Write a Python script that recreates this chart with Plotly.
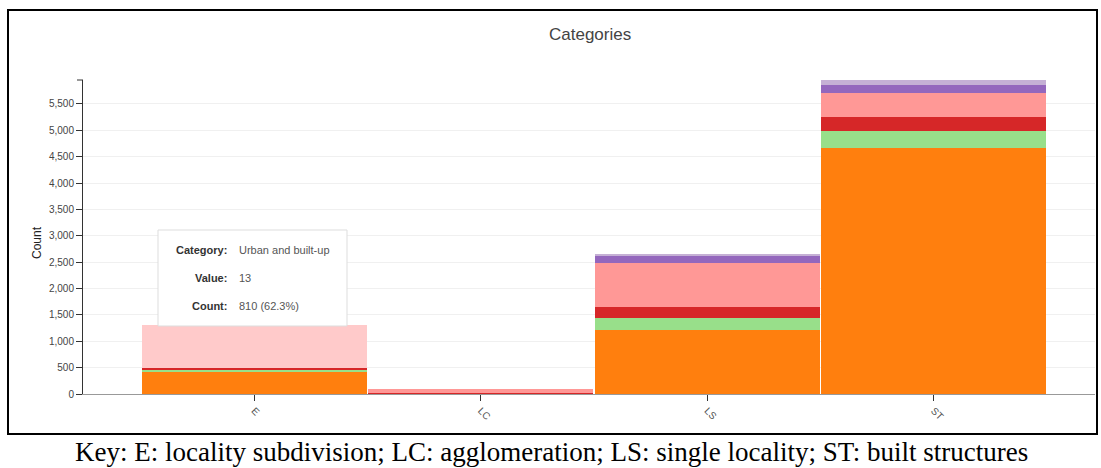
import plotly.graph_objects as go

# ---------------- data ----------------
categories = ["E", "LC", "LS", "ST"]
woody_savannas = [425, 0, 1210, 4670]
permanent_wetlands = [25, 0, 230, 320]
croplands = [40, 15, 210, 265]
urban_built_up = [810, 75, 835, 455]
mosaics = [0, 0, 130, 150]
snow_ice = [0, 0, 40, 95]
y_ticks = list(range(0, 6000, 500))

series = [
    ("Woody savannas", woody_savannas, "#ff7f0e"),
    ("Permanent wetlands", permanent_wetlands, "#98df8a"),
    ("Croplands", croplands, "#d62728"),
    ("Urban and built-up", urban_built_up, "#ff9896"),
    ("Cropland/natural vegetation mosaics", mosaics, "#9467bd"),
    ("Snow and ice", snow_ice, "#c5b0d5"),
]
highlight = ("Urban and built-up", "E", "#ffcaca")  # hovered segment

totals = [sum(v) for v in zip(*[s[1] for s in series])]
ymax = max(totals)

# ---------------- layout geometry (pixels) ----------------
W, H = 1101, 468
L, R, T, B = 83, 1095, 80, 394


def px(xp):
    return (xp - L) / (R - L)


def py(yp):
    return (B - yp) / (B - T)


fig = go.Figure()
for name, vals, color in series:
    colors = [highlight[2] if (name == highlight[0] and c == highlight[1]) else color
              for c in categories]
    fig.add_trace(go.Bar(
        x=list(range(len(categories))), y=vals, name=name,
        marker=dict(color=colors, line=dict(width=0)),
        showlegend=False, hoverinfo="skip",
    ))

font_sans = "Liberation Sans, Arial, sans-serif"
font_serif = "Liberation Serif, Times New Roman, serif"

fig.update_layout(
    width=W, height=H,
    margin=dict(l=L, r=W - R, t=T, b=H - B, pad=0),
    barmode="stack", bargap=0.005,
    paper_bgcolor="white", plot_bgcolor="white",
    font=dict(family=font_sans, color="#444", size=11),
    xaxis=dict(
        range=[-0.756, 3.712], tickmode="array",
        tickvals=list(range(len(categories))), ticktext=categories,
        tickangle=45, ticks="outside", ticklen=6, tickcolor="#333", tickwidth=1,
        showline=True, linecolor="#999", linewidth=1, showgrid=False,
        zeroline=False, tickfont=dict(size=10, color="#555"), fixedrange=True,
    ),
    yaxis=dict(
        range=[0, ymax], tickmode="array", tickvals=y_ticks,
        tickformat=",", ticks="outside", ticklen=6, tickcolor="#333", tickwidth=1,
        showline=True, linecolor="#333", linewidth=1,
        showgrid=True, gridcolor="#f0f0f0", gridwidth=1, zeroline=False,
        tickfont=dict(size=10, color="#444"), fixedrange=True,
    ),
)

shapes = []
annotations = []

# outer black frame
shapes.append(dict(type="rect", xref="paper", yref="paper",
                   x0=px(8), x1=px(1097), y0=py(434), y1=py(10),
                   line=dict(color="black", width=2), fillcolor="rgba(0,0,0,0)",
                   layer="above"))
# outer tick at top of y axis
shapes.append(dict(type="line", xref="paper", yref="paper",
                   x0=px(L - 6), x1=px(L), y0=1, y1=1,
                   line=dict(color="#333", width=1)))

# tooltip box
shapes.append(dict(type="rect", xref="paper", yref="paper",
                   x0=px(158), x1=px(347), y0=py(326), y1=py(230),
                   line=dict(color="#dddddd", width=1), fillcolor="white",
                   layer="above"))

tooltip_rows = [("Category:", "Urban and built-up", 250),
                ("Value:", "13", 278),
                ("Count:", "810 (62.3%)", 306)]
for lab, val, yy in tooltip_rows:
    annotations.append(dict(xref="paper", yref="paper", x=px(229), y=py(yy),
                            xanchor="right", yanchor="middle", showarrow=False,
                            text="<b>" + lab + "</b>",
                            font=dict(family=font_sans, size=11, color="#333")))
    annotations.append(dict(xref="paper", yref="paper", x=px(237), y=py(yy),
                            xanchor="left", yanchor="middle", showarrow=False,
                            text=val,
                            font=dict(family=font_sans, size=11, color="#555")))

# chart title
annotations.append(dict(xref="paper", yref="paper", x=px(590), y=py(35),
                        xanchor="center", yanchor="middle", showarrow=False,
                        text="Categories",
                        font=dict(family=font_sans, size=17, color="#444")))
# y-axis title
annotations.append(dict(xref="paper", yref="paper", x=px(37), y=py(243),
                        xanchor="center", yanchor="middle", showarrow=False,
                        text="Count", textangle=-90,
                        font=dict(family=font_sans, size=12, color="#222")))
# clipped figure heading at the very top (only its lowest part shows)
annotations.append(dict(xref="paper", yref="paper", x=px(4), y=py(-12),
                        xanchor="left", yanchor="middle", showarrow=False,
                        text="<b>Categories in entity and land area (LCS)</b>",
                        font=dict(family=font_serif, size=21, color="black")))
# caption
annotations.append(dict(xref="paper", yref="paper", x=px(551), y=py(452),
                        xanchor="center", yanchor="middle", showarrow=False,
                        text="Key: E: locality subdivision; LC: agglomeration; "
                             "LS: single locality; ST: built structures",
                        font=dict(family=font_serif, size=27, color="black")))

fig.update_layout(shapes=shapes, annotations=annotations)
fig.write_html("out.html",
               config={"displayModeBar": False},
               post_script="document.body.style.margin='0';"
                           "document.body.style.overflow='hidden';")
